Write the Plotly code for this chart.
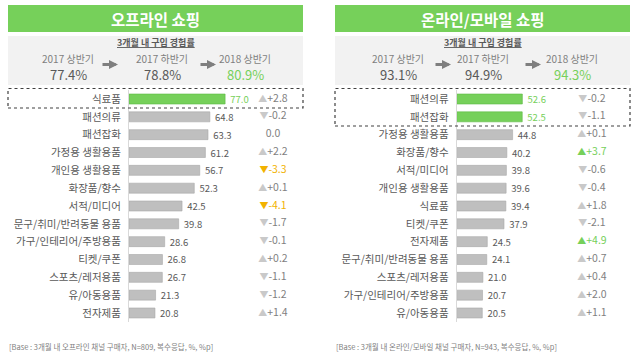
import plotly.graph_objects as go

W, H = 640, 357
FONT = "Noto Sans CJK KR"

# ---------------- data ----------------
left_title = "오프라인 쇼핑"
right_title = "온라인/모바일 쇼핑"
rate_title = "3개월 내 구입 경험률"
periods = ["2017 상반기", "2017 하반기", "2018 상반기"]
left_rates = [77.4, 78.8, 80.9]
right_rates = [93.1, 94.9, 94.3]

left_categories = ["식료품", "패션의류", "패션잡화", "가정용 생활용품", "개인용 생활용품", "화장품/향수",
                   "서적/미디어", "문구/취미/반려동물 용품", "가구/인테리어/주방용품", "티켓/쿠폰",
                   "스포츠/레저용품", "유/아동용품", "전자제품"]
left_values = [77.0, 64.8, 63.3, 61.2, 56.7, 52.3, 42.5, 39.8, 28.6, 26.8, 26.7, 21.3, 20.8]
left_changes = [2.8, -0.2, 0.0, 2.2, -3.3, 0.1, -4.1, -1.7, -0.1, 0.2, -1.1, -1.2, 1.4]
left_bar_hl = [1, 0, 0, 0, 0, 0, 0, 0, 0, 0, 0, 0, 0]
left_change_hl = [0, 0, 0, 0, 1, 0, 1, 0, 0, 0, 0, 0, 0]

right_categories = ["패션의류", "패션잡화", "가정용 생활용품", "화장품/향수", "서적/미디어", "개인용 생활용품",
                    "식료품", "티켓/쿠폰", "전자제품", "문구/취미/반려동물 용품", "스포츠/레저용품",
                    "가구/인테리어/주방용품", "유/아동용품"]
right_values = [52.6, 52.5, 44.8, 40.2, 39.8, 39.6, 39.4, 37.9, 24.5, 24.1, 21.0, 20.7, 20.5]
right_changes = [-0.2, -1.1, 0.1, 3.7, -0.6, -0.4, 1.8, -2.1, 4.9, 0.7, 0.4, 2.0, 1.1]
right_bar_hl = [1, 1, 0, 0, 0, 0, 0, 0, 0, 0, 0, 0, 0]
right_change_hl = [0, 0, 0, 1, 0, 0, 0, 0, 1, 0, 0, 0, 0]

left_base = "[Base : 3개월 내 오프라인 채널 구매자, N=809, 복수응답, %, %p]"
right_base = "[Base : 3개월 내 온라인/모바일 채널 구매자, N=943, 복수응답, %, %p]"

# ---------------- styles ----------------
GREEN = "#76d05a"
GREEN_DARK = "#5cb843"
GREY_BAR = "#bfbfbf"
GREY_BAR_LINE = "#a8a8a8"
TXT = "#595959"
TXT2 = "#7f7f7f"
TRI = "#c9c9c9"
ORANGE = "#f2b200"
NBSP = "\u00a0"


def px(x):
    return x / W


def py(y):
    return 1 - y / H


def change_text(v, hl):
    if v == 0:
        return "0.0"
    tri = "▲" if v > 0 else "▼"
    s = f"+{v:.1f}" if v > 0 else f"-{abs(v):.1f}"
    if hl:
        return f"<span style='font-size:9px'>{tri}</span>{s}"
    return f"<span style='font-size:9px;fill:{TRI}'>{tri}</span>{s}"


fig = go.Figure()

panels = [
    dict(cats=left_categories, vals=left_values, chg=left_changes, bhl=left_bar_hl, chl=left_change_hl,
         hlcol=ORANGE, axis_px=129, chg_px=273, xa="x", ya="y", xaxis="xaxis", yaxis="yaxis"),
    dict(cats=right_categories, vals=right_values, chg=right_changes, bhl=right_bar_hl, chl=right_change_hl,
         hlcol=GREEN, axis_px=456.7, chg_px=592, xa="x2", ya="y2", xaxis="xaxis2", yaxis="yaxis2"),
]

SCALE = 1.248  # px per unit
AX_W = 174
for p in panels:
    colors = [GREEN if h else GREY_BAR for h in p["bhl"]]
    lcolors = [GREEN_DARK if h else GREY_BAR_LINE for h in p["bhl"]]
    tcolors = [GREEN if h else TXT for h in p["bhl"]]
    fig.add_trace(go.Bar(
        x=p["vals"], y=p["cats"], orientation="h",
        marker=dict(color=colors, line=dict(color=lcolors, width=0.6)),
        width=0.56,
        text=[f"{NBSP}{v:.1f}" for v in p["vals"]], textposition="outside", constraintext="none",
        textfont=dict(family=FONT, size=9.5, color=tcolors),
        cliponaxis=False, xaxis=p["xa"], yaxis=p["ya"], showlegend=False, hoverinfo="skip",
    ))
    chg_x = (p["chg_px"] - p["axis_px"]) / SCALE
    ccolors = [p["hlcol"] if h else TXT2 for h in p["chl"]]
    fig.add_trace(go.Scatter(
        x=[chg_x] * len(p["cats"]), y=p["cats"], mode="text",
        text=[change_text(v, h) for v, h in zip(p["chg"], p["chl"])],
        textposition="middle center",
        textfont=dict(family=FONT, size=10.5, color=ccolors),
        cliponaxis=False, xaxis=p["xa"], yaxis=p["ya"], showlegend=False, hoverinfo="skip",
    ))
    y_top, y_bot = 90.1, 321.9
    fig.layout[p["xaxis"]] = dict(
        domain=[px(p["axis_px"]), px(p["axis_px"] + AX_W)], range=[0, AX_W / SCALE],
        visible=False, fixedrange=True, anchor=p["ya"],
    )
    fig.layout[p["yaxis"]] = dict(
        domain=[py(y_bot), py(y_top)], range=[len(p["cats"]) - 0.5, -0.5],
        showline=True, linecolor="#d9d9d9", linewidth=1, showgrid=False, zeroline=False,
        ticks="", ticklabelstandoff=5,
        tickfont=dict(family=FONT, size=10.5, color=TXT), anchor=p["xa"], fixedrange=True,
    )

shapes = []
annotations = []

# headers
for (x0, x1, title) in [(8, 303, left_title), (335, 630, right_title)]:
    shapes.append(dict(type="rect", xref="paper", yref="paper", x0=px(x0), x1=px(x1), y0=py(32), y1=py(5),
                       fillcolor=GREEN, line=dict(width=0), layer="below"))
    shapes.append(dict(type="rect", xref="paper", yref="paper", x0=px(x0), x1=px(x1), y0=py(85), y1=py(36),
                       fillcolor="#f2f2f2", line=dict(width=0), layer="below"))
    cx = (x0 + x1) / 2
    annotations.append(dict(xref="paper", yref="paper", x=px(cx), y=py(18.5), text=f"<b>{title}</b>",
                            showarrow=False, font=dict(family=FONT, size=15.5, color="white"),
                            xanchor="center", yanchor="middle"))
    annotations.append(dict(xref="paper", yref="paper", x=px(cx), y=py(42.5), text=f"<b><u>{rate_title}</u></b>",
                            showarrow=False, font=dict(family=FONT, size=9, color=TXT),
                            xanchor="center", yanchor="middle"))

left_cols = [68, 162, 245]
right_cols = [398, 483, 572]
left_arrow_tips = [118, 216]
right_arrow_tips = [451, 541]
for cols, tips, rates in [(left_cols, left_arrow_tips, left_rates), (right_cols, right_arrow_tips, right_rates)]:
    for i, (cx, per, r) in enumerate(zip(cols, periods, rates)):
        annotations.append(dict(xref="paper", yref="paper", x=px(cx), y=py(58.5), text=per, showarrow=False,
                                font=dict(family=FONT, size=10, color=TXT2), xanchor="center", yanchor="middle"))
        annotations.append(dict(xref="paper", yref="paper", x=px(cx), y=py(74), text=f"{r:.1f}%", showarrow=False,
                                font=dict(family=FONT, size=13, color=GREEN if i == 2 else TXT),
                                xanchor="center", yanchor="middle"))
    for tip in tips:
        annotations.append(dict(xref="paper", yref="paper", x=px(tip), y=py(64.5), ax=-17, ay=0,
                                text="", showarrow=True, arrowhead=2,
                                arrowsize=0.6, arrowwidth=3, arrowcolor="#7f7f7f"))

# highlight boxes
shapes.append(dict(type="rect", xref="paper", yref="paper", x0=px(8), x1=px(303), y0=py(108), y1=py(88.5),
                   line=dict(color="#404040", width=1.2, dash="dot"), fillcolor="rgba(0,0,0,0)"))
shapes.append(dict(type="rect", xref="paper", yref="paper", x0=px(335), x1=px(630), y0=py(126), y1=py(88.5),
                   line=dict(color="#404040", width=1.2, dash="dot"), fillcolor="rgba(0,0,0,0)"))

# footers
annotations.append(dict(xref="paper", yref="paper", x=px(7), y=py(346), text=left_base, showarrow=False,
                        font=dict(family=FONT, size=7.5, color=TXT2), xanchor="left", yanchor="middle"))
annotations.append(dict(xref="paper", yref="paper", x=px(334), y=py(346), text=right_base, showarrow=False,
                        font=dict(family=FONT, size=7.5, color=TXT2), xanchor="left", yanchor="middle"))

fig.update_layout(
    width=W, height=H, margin=dict(l=0, r=0, t=0, b=0),
    paper_bgcolor="white", plot_bgcolor="rgba(0,0,0,0)",
    shapes=shapes, annotations=annotations, bargap=0.44, showlegend=False,
    font=dict(family=FONT),
)

fig.write_html("out.html", config={"displayModeBar": False},
               post_script="document.body.style.margin='0';document.body.style.padding='0';")
